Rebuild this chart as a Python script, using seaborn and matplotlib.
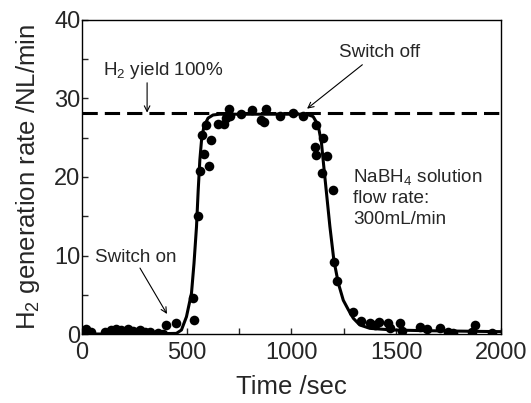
import matplotlib
matplotlib.use("Agg")
import matplotlib.pyplot as plt
import seaborn as sns
import pandas as pd

# Measured data points
time_sec = [20, 44, 108, 140, 164, 188, 220, 244, 276, 300, 323, 363, 387,
            403, 451, 531, 537, 555, 563, 574, 582, 594, 606, 618, 650, 679,
            690, 703, 706, 759, 810, 857, 869, 881, 945, 1009, 1057, 1112,
            1120, 1120, 1144, 1152, 1168, 1200, 1205, 1219, 1296, 1331, 1375,
            1399, 1420, 1463, 1471, 1519, 1527, 1614, 1646, 1710, 1750, 1774,
            1861, 1877, 1957]
rate = [0.59, 0.30, 0.30, 0.51, 0.65, 0.51, 0.59, 0.42, 0.55, 0.25, 0.30, 0.08, 0.05,
        1.15, 1.36, 4.54, 1.75, 15.0, 20.8, 25.4, 22.9, 26.6, 21.4, 24.7, 26.8, 26.8,
        27.5, 28.6, 27.8, 28.0, 28.5, 27.3, 27.0, 28.7, 27.8, 28.2, 27.8, 23.8,
        26.6, 22.8, 20.5, 25.0, 22.7, 18.3, 9.2, 6.8, 2.85, 1.70, 1.44,
        1.15, 1.57, 1.44, 0.72, 1.36, 0.42, 0.93, 0.59, 0.72, 0.30, 0.17,
        0.30, 1.15, 0.17]

# Fitted curve
curve_t = [0, 300, 451, 475, 499, 523, 535, 547, 555, 563, 571, 582, 602, 626,
           658, 1073, 1104, 1128, 1144, 1155, 1168, 1184, 1203, 1224, 1248,
           1272, 1296, 1327, 1375, 1487, 1646, 2000]
curve_y = [0.0, 0.0, 0.08, 0.51, 2.2, 5.2, 9.0, 13.7, 18.3, 22.2, 24.7, 26.4,
           27.5, 27.9, 28.0, 28.0, 27.7, 26.6, 24.3, 21.3, 17.9, 13.7, 9.4,
           6.5, 4.3, 3.1, 2.0, 1.15, 0.72, 0.51, 0.42, 0.3]

yield_100 = 28.2

sns.set_style("white")
plt.rcParams['font.family'] = ['Liberation Sans', 'DejaVu Sans']
plt.rcParams['mathtext.fontset'] = 'custom'
plt.rcParams['mathtext.rm'] = 'Liberation Sans'
plt.rcParams['mathtext.it'] = 'Liberation Sans'

fig = plt.figure(figsize=(5.31, 4.03), dpi=100)
ax = fig.add_axes([0.1544, 0.1712, 0.943 - 0.1544, 0.9504 - 0.1712])

pts = pd.DataFrame({"t": time_sec, "y": rate})
fit = pd.DataFrame({"t": curve_t, "y": curve_y})

sns.lineplot(data=fit, x="t", y="y", ax=ax, color="black", lw=2.2, sort=False)
sns.scatterplot(data=pts, x="t", y="y", ax=ax, color="black", s=48,
                edgecolor="black", linewidth=0, zorder=3)
ax.axhline(yield_100, color="black", lw=2.2, ls=(0, (5, 2.3)))

ax.set_xlim(0, 2000)
ax.set_ylim(0, 40)
ax.set_xticks([0, 500, 1000, 1500, 2000])
ax.set_xticks([250, 750, 1250, 1750], minor=True)
ax.set_yticks([0, 10, 20, 30, 40])
ax.set_yticks([5, 15, 25, 35], minor=True)
ax.tick_params(which="both", direction="in", length=4, width=1,
               labelsize=17, bottom=True, left=True)
ax.tick_params(axis="x", pad=6)
ax.tick_params(axis="y", pad=1)
for s in ax.spines.values():
    s.set_linewidth(1.0)
    s.set_color("black")

ax.set_xlabel("Time /sec", fontsize=18.5, labelpad=8)
ax.set_ylabel("H$_2$ generation rate /NL/min", fontsize=18.5, labelpad=9)

arrow = dict(arrowstyle="->", color="black", lw=0.8,
             shrinkA=0, shrinkB=0, mutation_scale=10)
ax.text(100, 33.6, "H$_2$ yield 100%", fontsize=13.6, va="center", ha="left")
ax.annotate("", xy=(311, yield_100), xytext=(311, 32.0), arrowprops=arrow)
ax.text(1421, 35.8, "Switch off", fontsize=13.6, va="center", ha="center")
ax.annotate("", xy=(1075, 28.7), xytext=(1339, 34.3), arrowprops=arrow)
ax.text(258, 9.7, "Switch on", fontsize=13.6, va="center", ha="center")
ax.annotate("", xy=(406, 2.55), xytext=(277, 8.4), arrowprops=arrow)
ax.text(1296, 17.4, "NaBH$_4$ solution\nflow rate:\n300mL/min", fontsize=13.6,
        va="center", ha="left", linespacing=1.3)

fig.savefig("out.png", dpi=100)
